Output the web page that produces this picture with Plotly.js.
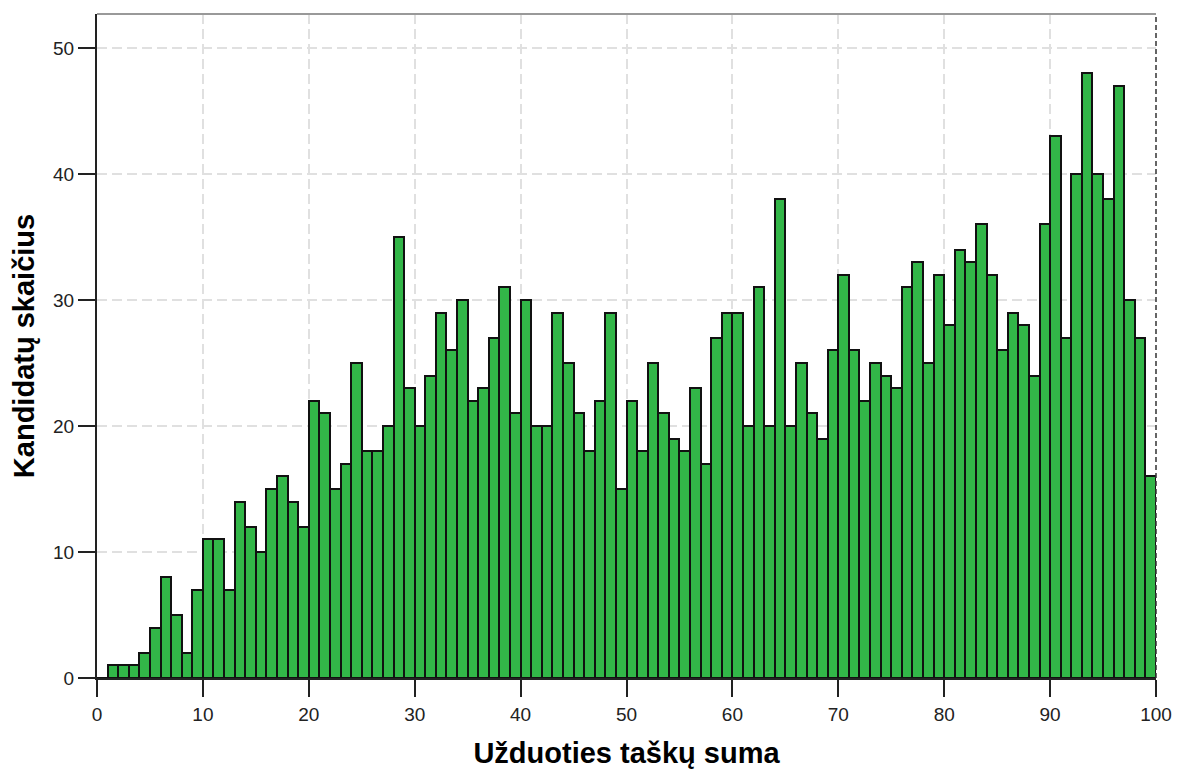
<!DOCTYPE html>
<html>
<head>
<meta charset="utf-8">
<script src="https://cdn.plot.ly/plotly-3.0.1.min.js"></script>
<style>html,body{margin:0;padding:0;background:#fff;}#chart{width:1178px;height:769px;}</style>
</head>
<body>
<div id="chart"></div>
<script>
// Bin left edges (score values) and candidate counts
var binStart = [0,1,2,3,4,5,6,7,8,9,10,11,12,13,14,15,16,17,18,19,
  20,21,22,23,24,25,26,27,28,29,30,31,32,33,34,35,36,37,38,39,
  40,41,42,43,44,45,46,47,48,49,50,51,52,53,54,55,56,57,58,59,
  60,61,62,63,64,65,66,67,68,69,70,71,72,73,74,75,76,77,78,79,
  80,81,82,83,84,85,86,87,88,89,90,91,92,93,94,95,96,97,98,99];
var counts = [0,1,1,1,2,4,8,5,2,7,11,11,7,14,12,10,15,16,14,12,
  22,21,15,17,25,18,18,20,35,23,20,24,29,26,30,22,23,27,31,21,
  30,20,20,29,25,21,18,22,29,15,22,18,25,21,19,18,23,17,27,29,
  29,20,31,20,38,20,25,21,19,26,32,26,22,25,24,23,31,33,25,32,
  28,34,33,36,32,26,29,28,24,36,43,27,40,48,40,38,47,30,27,16];
var xTicks = [0,10,20,30,40,50,60,70,80,90,100];
var yTicks = [0,10,20,30,40,50];
var xTitle = 'Užduoties taškų suma';
var yTitle = 'Kandidatų skaičius';

var trace = {
  type: 'bar',
  x: binStart,
  y: counts,
  offset: 0,
  width: 1,
  marker: {color: 'rgb(50,182,72)', line: {color: '#111', width: 2}},
  hoverinfo: 'x+y'
};

var axisFont = {family: 'Liberation Sans, Arial, sans-serif', size: 19, color: '#222'};
var titleFont = {family: 'Liberation Sans, Arial, sans-serif', size: 29, color: '#000', weight: 'bold'};

var layout = {
  width: 1178, height: 769,
  margin: {l: 97, r: 22, t: 14, b: 91, pad: 0},
  paper_bgcolor: '#fff', plot_bgcolor: '#fff',
  showlegend: false,
  bargap: 0,
  xaxis: {
    range: [0, 100], tickvals: xTicks, ticktext: xTicks.map(String),
    ticks: 'outside', ticklen: 17, tickwidth: 2, tickcolor: '#222',
    showline: true, linecolor: '#222', linewidth: 2,
    showgrid: true, gridcolor: '#e0e0e0', gridwidth: 1.5, griddash: '10px,5px',
    zeroline: false, tickfont: axisFont, ticklabelstandoff: 1,
    automargin: false,
    title: {text: xTitle, font: titleFont, standoff: 20}
  },
  yaxis: {
    range: [0, 52.7], tickvals: yTicks, ticktext: yTicks.map(String),
    ticks: 'outside', ticklen: 17, tickwidth: 2, tickcolor: '#222',
    showline: true, linecolor: '#222', linewidth: 2,
    showgrid: true, gridcolor: '#e0e0e0', gridwidth: 1.5, griddash: '10px,5px',
    zeroline: false, tickfont: axisFont, ticklabelstandoff: 0,
    automargin: false,
    title: {text: yTitle, font: titleFont, standoff: 10}
  },
  shapes: [
    {type: 'line', xref: 'paper', yref: 'paper', x0: 0, x1: 1, y0: 1, y1: 1,
     line: {color: '#999', width: 2}},
    {type: 'line', xref: 'paper', yref: 'paper', x0: 1, x1: 1, y0: 0, y1: 1,
     line: {color: '#333', width: 1.5, dash: '5px,3px'}}
  ]
};

Plotly.newPlot('chart', [trace], layout, {displayModeBar: false});
</script>
</body>
</html>
